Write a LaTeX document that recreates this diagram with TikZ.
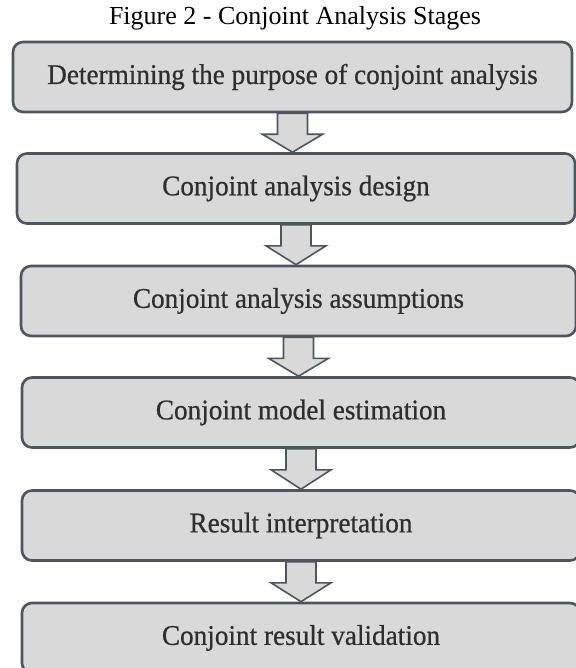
\documentclass[tikz,border=0pt]{standalone}
\usepackage{fontspec}
\setmainfont{Liberation Serif}
\newfontfamily\stagefont{Liberation Serif}[FakeBold=0.6, FakeStretch=0.955]
\usetikzlibrary{calc}
\definecolor{boxline}{HTML}{50545E}
\definecolor{boxfill}{HTML}{D9D9D9}
\definecolor{boxtext}{HTML}{2E2E2E}
\tikzset{
  stagebox/.style={draw=boxline, line width=2.6pt, fill=boxfill, rounded corners=10pt,
    inner sep=0pt, text=boxtext, font=\stagefont\fontsize{28.5}{32}\selectfont},
  downarrow/.style={draw=boxline, line width=1.6pt, fill=boxfill, line join=miter},
  titletext/.style={font=\fontsize{26}{30}\selectfont, text=black, inner sep=0pt}
}
\begin{document}
\begin{tikzpicture}[x=1pt,y=-1pt]
\useasboundingbox[fill=white] (0,0) rectangle (575,668);
\node[titletext] (title) at (295,18) {Figure 2 - Conjoint Analysis Stages};
\node[stagebox, minimum width=559pt, minimum height=70pt] (b1) at (292.5,77) {Determining the purpose of conjoint analysis};
\node[stagebox, minimum width=558pt, minimum height=70pt] (b2) at (296,188.5) {Conjoint analysis design};
\node[stagebox, minimum width=555pt, minimum height=70pt] (b3) at (298.5,301) {Conjoint analysis assumptions};
\node[stagebox, minimum width=558pt, minimum height=70pt] (b4) at (301,412.5) {Conjoint model estimation};
\node[stagebox, minimum width=558pt, minimum height=70pt] (b5) at (301,525.5) {Result interpretation};
\node[stagebox, minimum width=558pt, minimum height=70pt] (b6) at (301,638) {Conjoint result validation};
\foreach \a/\b in {b1/b2,b2/b3,b3/b4,b4/b5,b5/b6}{
  \draw[downarrow] ($(\a.south)+(-15,0)$) -- ($(\a.south)+(15,0)$) -- ($(\a.south)+(15,21)$)
    -- ($(\a.south)+(30,21)$) -- (\a.south |- \b.north) -- ($(\a.south)+(-30,21)$)
    -- ($(\a.south)+(-15,21)$) -- cycle;
}
\end{tikzpicture}
\end{document}
